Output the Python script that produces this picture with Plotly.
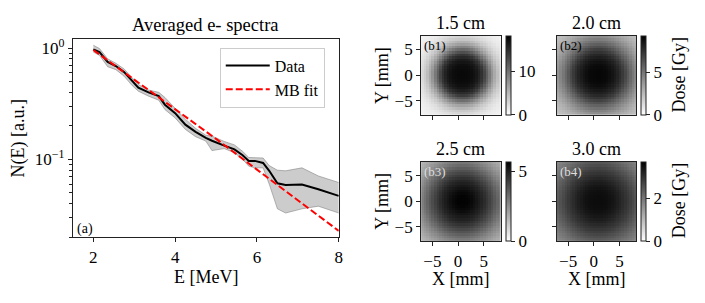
import numpy as np
import plotly.graph_objects as go

# ---------------- data: averaged spectrum ----------------
E_data = [2.0, 2.15, 2.35, 2.55, 2.75, 2.95, 3.1, 3.35, 3.6, 3.75, 4.0, 4.25, 4.5, 4.75,
          4.9, 5.2, 5.45, 5.65, 5.8, 5.95, 6.15, 6.3, 6.5, 6.7, 7.1, 7.5, 8.0]
N_data = [0.97, 0.92, 0.75, 0.69, 0.61, 0.50, 0.44, 0.40, 0.37, 0.31, 0.26, 0.205, 0.177, 0.156,
          0.147, 0.133, 0.123, 0.109, 0.097, 0.097, 0.093, 0.079, 0.061, 0.059, 0.0595, 0.054, 0.047]
N_upper = [1.06, 0.99, 0.80, 0.73, 0.65, 0.54, 0.47, 0.42, 0.40, 0.36, 0.29, 0.23, 0.19, 0.165,
           0.162, 0.145, 0.135, 0.118, 0.104, 0.103, 0.103, 0.088, 0.080, 0.079, 0.084, 0.071, 0.062]
N_lower = [0.92, 0.86, 0.68, 0.64, 0.56, 0.46, 0.41, 0.37, 0.34, 0.28, 0.236, 0.186, 0.16, 0.146,
           0.12, 0.125, 0.115, 0.10, 0.087, 0.084, 0.084, 0.060, 0.036, 0.033, 0.036, 0.038, 0.033]
E_fit = [2, 3, 4, 5, 6, 7, 8]
N_fit = [0.96, 0.52, 0.285, 0.153, 0.081, 0.043, 0.0228]

# ---------------- data: dose maps (radial profiles) ----------------
panel_labels = ["(b1)", "(b2)", "(b3)", "(b4)"]
panel_titles = ["1.5 cm", "2.0 cm", "2.5 cm", "3.0 cm"]
dose_max = [18.2, 9.3, 5.65, 3.72]          # colorbar upper limits [Gy]
cbar_ticks = [[0, 10], [0, 5], [0, 5], [0, 2]]
radius_mm = [0, 1, 2, 3, 4, 5, 6, 7, 8, 9, 10, 11]
profile_b1 = [17.6, 17.5, 17.2, 16.3, 14.3, 10.6, 6.8, 4.0, 2.4, 1.5, 1.1, 0.9]
profile_b2 = [9.1, 9.05, 8.9, 8.5, 7.9, 7.0, 5.8, 4.7, 3.75, 3.0, 2.5, 2.2]
profile_b3 = [5.6, 5.58, 5.4, 5.1, 4.8, 4.35, 3.85, 3.3, 2.75, 2.3, 1.9, 1.6]
profile_b4 = [3.55, 3.54, 3.5, 3.4, 3.25, 3.05, 2.85, 2.6, 2.35, 2.1, 1.9, 1.7]
profiles = [profile_b1, profile_b2, profile_b3, profile_b4]
beam_center = (0.8, 0.0)
x_mm = [-6.95 + 0.5 * i for i in range(31)]
y_mm = [-7.55 + 0.5 * i for i in range(31)]

FONT = "Liberation Serif"
TICK = 17
LAB = 18
W, H = 705, 303


def px(x):
    return x / W


def py(y):
    return 1 - y / H


fig = go.Figure()

# ---------------- left panel ----------------
fig.add_trace(go.Scatter(x=E_data, y=N_lower, mode="lines",
                         line=dict(color="rgba(110,110,110,0.6)", width=0.8),
                         showlegend=False, hoverinfo="skip"))
fig.add_trace(go.Scatter(x=E_data, y=N_upper, mode="lines", fill="tonexty",
                         fillcolor="rgba(128,128,128,0.4)",
                         line=dict(color="rgba(110,110,110,0.6)", width=0.8),
                         showlegend=False, hoverinfo="skip"))
fig.add_trace(go.Scatter(x=E_data, y=N_data, mode="lines", name="Data",
                         line=dict(color="black", width=2)))
fig.add_trace(go.Scatter(x=E_fit, y=N_fit, mode="lines", name="MB fit",
                         line=dict(color="red", width=2, dash="7px,3px")))

axis_common = dict(showline=True, mirror=True, linecolor="#222", linewidth=1,
                   ticks="outside", ticklen=4, tickwidth=1, tickcolor="#222",
                   showgrid=False, zeroline=False,
                   tickfont=dict(family=FONT, size=TICK, color="black"))

fig.update_layout(
    xaxis=dict(domain=[px(73.3), px(340.7)], anchor="y", range=[1.5, 8],
               tickvals=[2, 4, 6, 8], **axis_common),
    yaxis=dict(domain=[py(236.7), py(36.5)], anchor="x", type="log",
               range=[-1.70, 0.08], tickvals=[0.1, 1],
               ticktext=["10<sup>−1</sup>", "10<sup>0</sup>"],
               minor=dict(tickvals=[0.02, 0.03, 0.04, 0.05, 0.06, 0.07, 0.08, 0.09,
                                    0.2, 0.3, 0.4, 0.5, 0.6, 0.7, 0.8, 0.9],
                          ticks="outside", ticklen=2.5, tickwidth=0.8, tickcolor="#222"),
               **axis_common),
)

# ---------------- dose maps ----------------
hm_boxes = [(423.5, 503.5, 33, 113), (560, 640, 33, 113),
            (423.5, 503.5, 160.5, 240.5), (560, 640, 160.5, 240.5)]
XX, YY = np.meshgrid(np.array(x_mm), np.array(y_mm))
RR = np.hypot(XX - beam_center[0], YY - beam_center[1])

for i in range(4):
    k = i + 2
    x0, x1, y0, y1 = hm_boxes[i]
    z = np.interp(RR, radius_mm, profiles[i])
    fig.add_trace(go.Heatmap(
        x=x_mm, y=y_mm, z=z, xaxis=f"x{k}", yaxis=f"y{k}",
        colorscale=[[0, "white"], [1, "black"]], zmin=0, zmax=dose_max[i],
        colorbar=dict(x=px(x1 + 5), xanchor="left", y=py((y0 + y1) / 2), yanchor="middle",
                      len=(y1 - y0) / H, lenmode="fraction", thickness=5, thicknessmode="pixels",
                      outlinewidth=1, outlinecolor="#222", xpad=0, ypad=0,
                      ticks="outside", ticklen=4, tickwidth=1, tickcolor="#222",
                      tickvals=cbar_ticks[i],
                      tickfont=dict(family=FONT, size=TICK, color="black")),
        hoverinfo="skip"))
    show_x = i >= 2
    show_y = i in (0, 2)
    fig.update_layout(**{
        f"xaxis{k}": dict(domain=[px(x0), px(x1)], anchor=f"y{k}", range=[-7.2, 8.3],
                          tickvals=[-5, 0, 5], showticklabels=show_x, **axis_common),
        f"yaxis{k}": dict(domain=[py(y1), py(y0)], anchor=f"x{k}", range=[-7.8, 7.7],
                          tickvals=[-5, 0, 5], showticklabels=show_y, **axis_common),
    })

# ---------------- texts ----------------
ann = []


def add_text(text, x, y, size=LAB, angle=0, color="black", xanchor="center"):
    ann.append(dict(text=text, x=px(x), y=py(y), xref="paper", yref="paper",
                    showarrow=False, textangle=angle, xanchor=xanchor, yanchor="middle",
                    font=dict(family=FONT, size=size, color=color)))


add_text("Averaged e- spectra", 207, 22, size=18.5)
add_text("E [MeV]", 207, 277)
add_text("N(E) [a.u.]", 19, 137, angle=-90)
add_text("(a)", 75, 228, size=14, xanchor="left")
for i in range(4):
    x0, x1, y0, y1 = hm_boxes[i]
    add_text(panel_titles[i], (x0 + x1) / 2, y0 - 13)
    add_text(panel_labels[i], x0 + 1, y0 + 10, size=13,
             color="black" if i < 2 else "#dddddd", xanchor="left")
add_text("Y [mm]", 384, 73, angle=-90)
add_text("Y [mm]", 384, 200, angle=-90)
add_text("X [mm]", 463.5, 279)
add_text("X [mm]", 600, 279)
add_text("Dose [Gy]", 683, 73, angle=-90)
add_text("Dose [Gy]", 683, 200, angle=-90)

fig.update_layout(
    width=W, height=H, margin=dict(l=0, r=0, t=0, b=0),
    paper_bgcolor="white", plot_bgcolor="white",
    font=dict(family=FONT, size=LAB, color="black"),
    annotations=ann,
    legend=dict(x=px(221), y=py(45), xanchor="left", yanchor="top",
                traceorder="normal",
                bgcolor="white", bordercolor="#cccccc", borderwidth=1,
                font=dict(family=FONT, size=16, color="black"),
                itemwidth=44, tracegroupgap=0),
)

fig.write_html("out.html", config={"displayModeBar": False},
               post_script="document.body.style.margin='0px';")
